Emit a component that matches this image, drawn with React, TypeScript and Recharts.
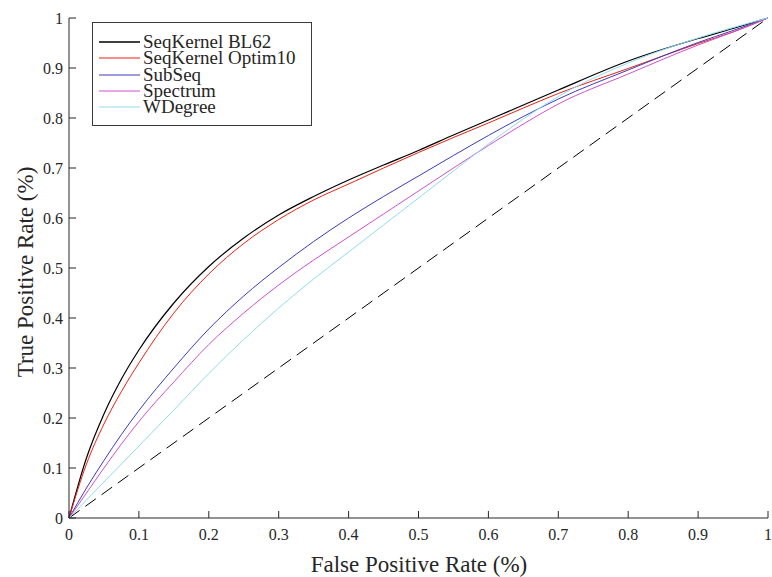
import { Legend, Line, LineChart, XAxis, YAxis } from 'recharts';

// false positive rate sample points (x)
const fpr = [0, 0.025, 0.05, 0.075, 0.1, 0.15, 0.2, 0.25, 0.3, 0.35, 0.4, 0.45, 0.5, 0.55, 0.6, 0.65, 0.7, 0.8, 0.9, 0.95, 1];

// true positive rate per method
const bl62 = [0, 0.12, 0.208, 0.278, 0.336, 0.43, 0.503, 0.56, 0.606, 0.643, 0.676, 0.706, 0.735, 0.766, 0.796, 0.826, 0.856, 0.914, 0.959, 0.979, 1];
const optim10 = [0, 0.108, 0.188, 0.253, 0.31, 0.41, 0.488, 0.549, 0.597, 0.636, 0.668, 0.7, 0.731, 0.761, 0.79, 0.82, 0.849, 0.899, 0.949, 0.972, 1];
const subSeq = [0, 0.06, 0.115, 0.167, 0.215, 0.3, 0.378, 0.444, 0.501, 0.553, 0.6, 0.643, 0.684, 0.725, 0.765, 0.803, 0.838, 0.896, 0.951, 0.975, 1];
const spectrum = [0, 0.05, 0.1, 0.148, 0.193, 0.272, 0.347, 0.41, 0.466, 0.516, 0.562, 0.608, 0.654, 0.7, 0.745, 0.788, 0.828, 0.888, 0.946, 0.972, 1];
const wDegree = [0, 0.036, 0.072, 0.108, 0.144, 0.216, 0.289, 0.357, 0.42, 0.478, 0.532, 0.586, 0.64, 0.694, 0.748, 0.798, 0.843, 0.91, 0.96, 0.981, 1];

// chance diagonal
const chanceFpr = [0, 1];
const chanceTpr = [0, 1];

const ticks = [0, 0.1, 0.2, 0.3, 0.4, 0.5, 0.6, 0.7, 0.8, 0.9, 1];
const tickLabels = ['0', '0.1', '0.2', '0.3', '0.4', '0.5', '0.6', '0.7', '0.8', '0.9', '1'];

const seriesList = [
    { key: 'bl62', name: 'SeqKernel BL62', color: '#000000', values: bl62 },
    { key: 'optim10', name: 'SeqKernel Optim10', color: '#f0200f', values: optim10 },
    { key: 'subSeq', name: 'SubSeq', color: '#3c3cbe', values: subSeq },
    { key: 'spectrum', name: 'Spectrum', color: '#d050cc', values: spectrum },
    { key: 'wDegree', name: 'WDegree', color: '#8fdcee', values: wDegree },
];

const chartData = fpr.map((x, i) => {
    const row: Record<string, number> = { fpr: x };
    seriesList.forEach((s) => {
        row[s.key] = s.values[i];
    });
    return row;
});

const chanceData = chanceFpr.map((x, i) => ({ fpr: x, tpr: chanceTpr[i] }));

const AXIS = '#262626';
const FONT = '"Liberation Serif", "Times New Roman", serif';
const TICK_LEN = 7;

const label = (v: number) => tickLabels[ticks.indexOf(v)] ?? String(v);

function BottomTick({ x, y, payload }: any) {
    return (
        <g>
            <line x1={x} y1={y} x2={x} y2={y - TICK_LEN} stroke={AXIS} />
            <text x={x} y={y + 22} textAnchor="middle" fontFamily={FONT} fontSize={16} fill={AXIS}>
                {label(payload.value)}
            </text>
        </g>
    );
}

function TopTick({ x, y }: any) {
    return <line x1={x} y1={y} x2={x} y2={y + TICK_LEN} stroke={AXIS} />;
}

function LeftTick({ x, y, payload }: any) {
    return (
        <g>
            <line x1={x} y1={y} x2={x + TICK_LEN} y2={y} stroke={AXIS} />
            <text x={x - 6} y={y + 5.5} textAnchor="end" fontFamily={FONT} fontSize={16} fill={AXIS}>
                {label(payload.value)}
            </text>
        </g>
    );
}

function RightTick({ x, y }: any) {
    return <line x1={x} y1={y} x2={x - TICK_LEN} y2={y} stroke={AXIS} />;
}

function LegendBox() {
    return (
        <div
            style={{
                boxSizing: 'border-box',
                width: 220,
                height: 104,
                border: '1px solid #3a3a3a',
                background: '#fff',
                paddingTop: 11,
                fontFamily: FONT,
                fontSize: 19,
                color: AXIS,
            }}
        >
            {seriesList.map((s) => (
                <div key={s.key} style={{ display: 'flex', alignItems: 'center', height: 16.25, lineHeight: '16px' }}>
                    <svg width={50} height={4} style={{ flex: 'none' }}>
                        <line x1={6} y1={2} x2={47} y2={2} stroke={s.color} strokeWidth={s.key === 'bl62' ? 1.3 : 1} />
                    </svg>
                    <span style={{ whiteSpace: 'nowrap' }}>{s.name}</span>
                </div>
            ))}
        </div>
    );
}

export default function App() {
    return (
        <div style={{ position: 'absolute', left: 0, top: 0, width: 772, height: 577, background: '#fff' }}>
            <LineChart width={772} height={577} data={chartData} margin={{ top: 18, right: 4, bottom: 0, left: 0 }}>
                <XAxis
                    dataKey="fpr"
                    type="number"
                    domain={[0, 1]}
                    ticks={ticks}
                    interval={0}
                    height={59}
                    tickSize={0}
                    tickMargin={0}
                    tickLine={false}
                    axisLine={{ stroke: AXIS }}
                    tick={<BottomTick />}
                />
                <XAxis
                    xAxisId="top"
                    orientation="top"
                    dataKey="fpr"
                    type="number"
                    domain={[0, 1]}
                    ticks={ticks}
                    interval={0}
                    height={0}
                    tickSize={0}
                    tickMargin={0}
                    tickLine={false}
                    axisLine={{ stroke: AXIS }}
                    tick={<TopTick />}
                />
                <YAxis
                    type="number"
                    domain={[0, 1]}
                    ticks={ticks}
                    interval={0}
                    width={69}
                    tickSize={0}
                    tickMargin={0}
                    tickLine={false}
                    axisLine={{ stroke: AXIS }}
                    tick={<LeftTick />}
                />
                <YAxis
                    yAxisId="right"
                    orientation="right"
                    type="number"
                    domain={[0, 1]}
                    ticks={ticks}
                    interval={0}
                    width={0}
                    tickSize={0}
                    tickMargin={0}
                    tickLine={false}
                    axisLine={{ stroke: AXIS }}
                    tick={<RightTick />}
                />
                <Line
                    data={chanceData}
                    xAxisId="top"
                    yAxisId="right"
                    dataKey="tpr"
                    type="linear"
                    stroke="#000"
                    strokeWidth={1}
                    strokeDasharray="13 7"
                    dot={false}
                    legendType="none"
                    isAnimationActive={false}
                />
                {seriesList.map((s) => (
                    <Line
                        key={s.key}
                        dataKey={s.key}
                        name={s.name}
                        type="monotone"
                        stroke={s.color}
                        strokeWidth={s.key === 'bl62' ? 1.2 : 1}
                        dot={false}
                        isAnimationActive={false}
                    />
                ))}
                <Legend
                    layout="horizontal"
                    verticalAlign="middle"
                    wrapperStyle={{ left: 92, top: 22, width: 220, height: 104 }}
                    content={() => <LegendBox />}
                />
            </LineChart>
            <div
                style={{
                    position: 'absolute',
                    left: 69,
                    top: 556,
                    width: 700,
                    textAlign: 'center',
                    fontFamily: FONT,
                    fontSize: 23,
                    lineHeight: '18px',
                    color: AXIS,
                    whiteSpace: 'nowrap',
                }}
            >
                False Positive Rate (%)
            </div>
            <div
                style={{
                    position: 'absolute',
                    left: 26,
                    top: 272,
                    transform: 'translate(-50%, -50%) rotate(-90deg)',
                    fontFamily: FONT,
                    fontSize: 23,
                    lineHeight: '22px',
                    color: AXIS,
                    whiteSpace: 'nowrap',
                }}
            >
                True Positive Rate (%)
            </div>
        </div>
    );
}
